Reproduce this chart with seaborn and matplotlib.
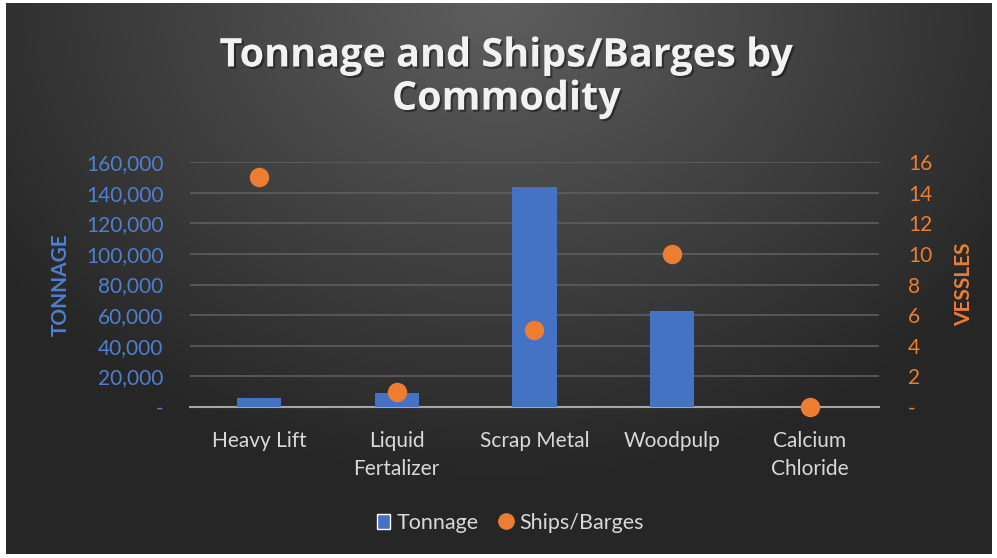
import matplotlib.pyplot as plt
import matplotlib.ticker as mticker
import matplotlib.patheffects as pe
from matplotlib.lines import Line2D
from matplotlib.patches import Patch
import seaborn as sns
import pandas as pd
import numpy as np

commodities = ['Heavy Lift', 'Liquid\nFertalizer', 'Scrap Metal', 'Woodpulp', 'Calcium\nChloride']
tonnage = [6000, 9000, 144000, 63000, 0]
vessels = [15, 1, 5, 10, 0]

df = pd.DataFrame({'Commodity': commodities, 'Tonnage': tonnage, 'Ships/Barges': vessels})

sns.set_theme(style="white")
plt.rcParams['font.family'] = ['Lato', 'DejaVu Sans']

blue = '#4472C4'
blue_txt = '#4F7FD0'
orange = '#ED7D31'
light = '#D9D9D9'

fig = plt.figure(figsize=(9.97, 5.58), dpi=100, facecolor='white')

# dark radial gradient background
bg = fig.add_axes([0.006, 0.008, 0.988, 0.987])
yy, xx = np.mgrid[0:1:300j, 0:1.8:540j]
r = np.sqrt((xx - 0.9) ** 2 + (yy - 0.0) ** 2 * 1.6)
shade = np.clip(0.37 - 0.20 * r, 0.15, 0.37)
bg.imshow(np.dstack([shade] * 3), aspect='auto', extent=[0, 1, 0, 1], origin='upper')
bg.axis('off')

ax = fig.add_axes([0.1906, 0.2706, 0.691, 0.439])
ax.patch.set_alpha(0)
sns.barplot(data=df, x='Commodity', y='Tonnage', color=blue, width=0.32,
            saturation=1, linewidth=0, ax=ax, zorder=3)
ax.set_ylim(0, 160000)
ax.set_yticks(np.arange(0, 160001, 20000))
ax.yaxis.set_major_formatter(mticker.FuncFormatter(lambda v, p: '-' if v == 0 else f'{v:,.0f}'))
ax.grid(axis='y', color='#5E5E5E', linewidth=1.2, zorder=0)
ax.set_axisbelow(True)
for s in ['top', 'right', 'left']:
    ax.spines[s].set_visible(False)
ax.spines['bottom'].set_color('#A6A6A6')
ax.spines['bottom'].set_linewidth(1.5)
ax.tick_params(axis='y', colors=blue_txt, labelsize=15, length=0, pad=19)
ax.tick_params(axis='x', colors=light, labelsize=15, length=0, pad=17)
for t in ax.get_xticklabels():
    t.set_linespacing(1.55)
ax.set_xlabel('')
ax.set_ylabel('TONNAGE', color=blue_txt, fontsize=15, fontweight='bold', labelpad=11)

ax2 = ax.twinx()
sns.stripplot(data=df, x='Commodity', y='Ships/Barges', color=orange, jitter=False,
              size=14, linewidth=0, ax=ax2, zorder=5, clip_on=False)
ax2.set_ylim(0, 16)
ax2.set_yticks(np.arange(0, 17, 2))
ax2.yaxis.set_major_formatter(mticker.FuncFormatter(lambda v, p: '-' if v == 0 else f'{v:.0f}'))
for s in ax2.spines.values():
    s.set_visible(False)
ax2.tick_params(axis='y', colors=orange, labelsize=15, length=0, pad=21)
ax2.set_ylabel('VESSLES', color=orange, fontsize=15, fontweight='bold', labelpad=16)
ax2.set_xlabel('')

fig.text(0.508, 0.861, 'Tonnage and Ships/Barges by\nCommodity', ha='center', va='center',
         color='#F2F2F2', fontsize=28.5, fontweight='bold', linespacing=1.14, family='Open Sans',
         path_effects=[pe.withSimplePatchShadow(offset=(1.5, -1.5), shadow_rgbFace='black', alpha=0.4)])

handles = [Patch(facecolor=blue, label='Tonnage'),
           Line2D([0], [0], marker='o', linestyle='', markersize=11, color=orange, label='Ships/Barges')]
leg = fig.legend(handles=handles, loc='center', bbox_to_anchor=(0.512, 0.063), ncol=2, frameon=False,
                 fontsize=15.5, handlelength=0.6, handletextpad=0.3, columnspacing=1.0)
for t in leg.get_texts():
    t.set_color(light)

fig.savefig('out.png', dpi=100, facecolor='white')
